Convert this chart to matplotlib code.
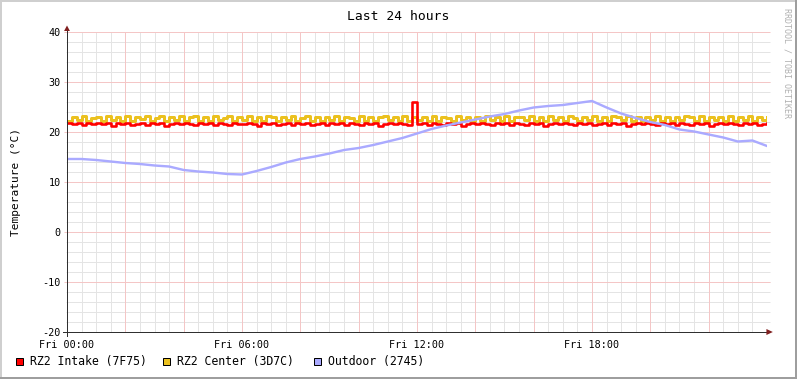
import numpy as np
import matplotlib
matplotlib.use("Agg")
import matplotlib.pyplot as plt
from matplotlib.patches import Rectangle
from matplotlib.lines import Line2D

plt.rcParams['font.family'] = ['DejaVu Sans Mono']
plt.rcParams['axes.unicode_minus'] = False

# 10 minute samples, 00:00 .. 24:00
intake = [
    21.8, 21.7, 21.8, 21.4, 21.8, 21.7, 21.9, 21.6, 21.8, 21.3, 21.8, 21.7,
    21.8, 21.5, 21.7, 21.8, 21.4, 21.8, 21.7, 21.8, 21.3, 21.7, 21.8, 21.6,
    21.8, 21.7, 21.4, 21.8, 21.7, 21.9, 21.5, 21.8, 21.7, 21.4, 21.8, 21.7,
    21.6, 21.8, 21.7, 21.3, 21.8, 21.7, 21.8, 21.5, 21.7, 21.8, 21.4, 21.8,
    21.7, 21.8, 21.5, 21.7, 21.8, 21.4, 21.8, 21.7, 21.9, 21.5, 21.8, 21.7,
    21.4, 21.8, 21.7, 21.8, 21.3, 21.7, 21.8, 21.6, 21.8, 21.7, 21.4, 26.1,
    21.7, 21.8, 21.5, 21.8, 21.7, 21.4, 21.8, 21.7, 21.8, 21.3, 21.7, 21.8,
    21.6, 21.8, 21.7, 21.4, 21.8, 21.7, 21.9, 21.5, 21.8, 21.7, 21.4, 21.8,
    21.7, 21.8, 21.3, 21.7, 21.8, 21.6, 21.8, 21.7, 21.4, 21.8, 21.7, 21.8,
    21.5, 21.7, 21.8, 21.4, 21.8, 21.7, 21.8, 21.3, 21.7, 21.8, 21.6, 21.8,
    21.7, 21.4, 21.8, 21.7, 21.9, 21.5, 21.8, 21.7, 21.4, 21.8, 21.7, 21.8,
    21.3, 21.7, 21.8, 21.6, 21.8, 21.7, 21.4, 21.8, 21.7, 21.8, 21.5, 21.7,
    21.8,
]
center = [
    22.3, 23.1, 22.4, 23.2, 22.2, 22.8, 23.1, 22.3, 23.2, 22.4, 23.0, 22.2,
    23.3, 22.3, 23.1, 22.6, 23.2, 22.2, 22.9, 23.3, 22.3, 23.1, 22.4, 23.2,
    22.2, 23.0, 23.2, 22.3, 23.1, 22.2, 23.3, 22.4, 22.9, 23.2, 22.3, 23.0,
    22.4, 23.2, 22.2, 23.1, 22.3, 23.3, 23.0, 22.2, 23.1, 22.4, 23.2, 22.3,
    22.9, 23.2, 22.3, 23.1, 22.2, 23.0, 22.4, 23.3, 22.3, 23.1, 22.8, 22.2,
    23.2, 22.3, 23.0, 22.2, 23.1, 23.3, 22.4, 23.0, 22.2, 23.2, 22.3, 23.1,
    22.4, 23.0, 22.3, 23.2, 22.2, 23.1, 22.9, 22.3, 23.2, 22.4, 23.0, 22.2,
    23.1, 22.3, 23.3, 22.4, 23.0, 22.2, 23.2, 22.3, 23.1, 23.0, 22.4, 23.2,
    22.2, 23.1, 22.3, 23.3, 22.4, 23.0, 22.2, 23.2, 22.8, 22.3, 23.1, 22.4,
    23.2, 22.2, 23.0, 22.3, 23.3, 23.1, 22.4, 23.2, 22.2, 23.0, 22.3, 23.1,
    22.4, 23.2, 22.2, 23.0, 22.3, 23.1, 22.4, 23.3, 23.0, 22.2, 23.2, 22.3,
    23.1, 22.4, 23.0, 22.2, 23.2, 22.3, 23.1, 22.4, 23.3, 22.2, 23.0, 22.4,
    23.1,
]
# 30 minute samples
outdoor = [
    14.6, 14.6, 14.4, 14.1, 13.8, 13.6, 13.3, 13.1, 12.4, 12.1,
    11.9, 11.6, 11.5, 12.2, 13.0, 13.9, 14.6, 15.1, 15.7, 16.4,
    16.8, 17.4, 18.1, 18.8, 19.7, 20.6, 21.3, 21.9, 22.5, 23.1,
    23.6, 24.3, 24.9, 25.2, 25.4, 25.8, 26.2, 24.9, 23.7, 22.8,
    22.0, 21.4, 20.5, 20.1, 19.5, 18.9, 18.1, 18.3, 17.2,
]
t10 = np.linspace(0, 24, len(intake))
t30 = np.linspace(0, 24, len(outdoor))

xticks = [0, 6, 12, 18]
xlabels = ['Fri 00:00', 'Fri 06:00', 'Fri 12:00', 'Fri 18:00']
yticks = [-20, -10, 0, 10, 20, 30, 40]

names = ['RZ2 Intake (7F75)', 'RZ2 Center (3D7C)', 'Outdoor (2745)']
colors = ['#ff0000', '#ebc11f', '#aaaaff']

W, H = 797, 379
fig = plt.figure(figsize=(W / 100, H / 100), dpi=100)
fig.patch.set_facecolor('white')
ax = fig.add_axes([67 / W, (H - 332) / H, 700 / W, 300 / H])
ax.set_xlim(0, 24)
ax.set_ylim(-20, 40)
for s in ax.spines.values():
    s.set_visible(False)

# grid
px = 1 / 1.39
ax.vlines(np.arange(0.5, 24, 0.5), -20, 40, color='#e4e4e4', lw=px, zorder=0)
ax.hlines(np.arange(-18, 40, 2), -0.05, 24.1, color='#e4e4e4', lw=px, zorder=0, clip_on=False)
ax.vlines(np.arange(2, 24, 2), -20, 40, color='#f4c6c6', lw=px, zorder=0)
ax.hlines(yticks, -0.12, 24.1, color='#f4c6c6', lw=px, zorder=0, clip_on=False)

ax.plot(t10, center, drawstyle='steps-post', color=colors[1], lw=3 * px, zorder=2)
ax.plot(t10, intake, drawstyle='steps-post', color=colors[0], lw=2.6 * px, zorder=3)
ax.plot(t30, outdoor, color=colors[2], lw=2.4 * px, zorder=4)

# axes with arrows
axc = '#303030'
arc = '#801f1f'
ax.plot([-0.14, 24.05], [-20, -20], color=axc, lw=px, clip_on=False, zorder=5)
ax.plot([0, 0], [-20.8, 40.4], color=axc, lw=px, clip_on=False, zorder=5)
ax.fill([23.98, 24.2, 23.98], [-20.6, -20, -19.4], color=arc, clip_on=False, zorder=6, lw=0)
ax.fill([-0.1, 0, 0.1], [40.2, 41.3, 40.2], color=arc, clip_on=False, zorder=6, lw=0)

ax.set_xticks(xticks)
ax.set_xticklabels(xlabels)
ax.set_yticks(yticks)
ax.tick_params(length=0, labelsize=7.3)
ax.tick_params(axis='x', pad=5.5)
ax.tick_params(axis='y', pad=4.5)
ax.set_ylabel('Temperature (°C)', fontsize=8)
ax.yaxis.set_label_coords(-46 / 700, 0.5)

fig.text(0.5, 1 - 16 / H, 'Last 24 hours', ha='center', va='center', fontsize=9.4)
fig.text(787 / W, 1 - 8 / H, 'RRDTOOL / TOBI OETIKER', rotation=-90, ha='center', va='top',
         fontsize=6, color='#b0b0b0')

# legend
lx = [16, 163, 314]
for x0, n, c in zip(lx, names, colors):
    fig.patches.append(Rectangle((x0 / W, 1 - 365 / H), 7 / W, 7 / H, transform=fig.transFigure,
                                 facecolor=c, edgecolor='black', lw=px))
    fig.text((x0 + 14) / W, 1 - 361 / H, n, ha='left', va='center', fontsize=8.3)

# border shading
fig.add_artist(Line2D([0, 1], [1 - 1 / H, 1 - 1 / H], color='#cfcfcf', lw=2 * px, transform=fig.transFigure))
fig.add_artist(Line2D([1 / W, 1 / W], [0, 1], color='#cfcfcf', lw=2 * px, transform=fig.transFigure))
fig.add_artist(Line2D([1 - 1.5 / W, 1 - 1.5 / W], [0, 1], color='#9e9e9e', lw=3 * px, transform=fig.transFigure))
fig.add_artist(Line2D([0, 1], [1.5 / H, 1.5 / H], color='#9e9e9e', lw=3 * px, transform=fig.transFigure))

fig.savefig('out.png', dpi=100)
